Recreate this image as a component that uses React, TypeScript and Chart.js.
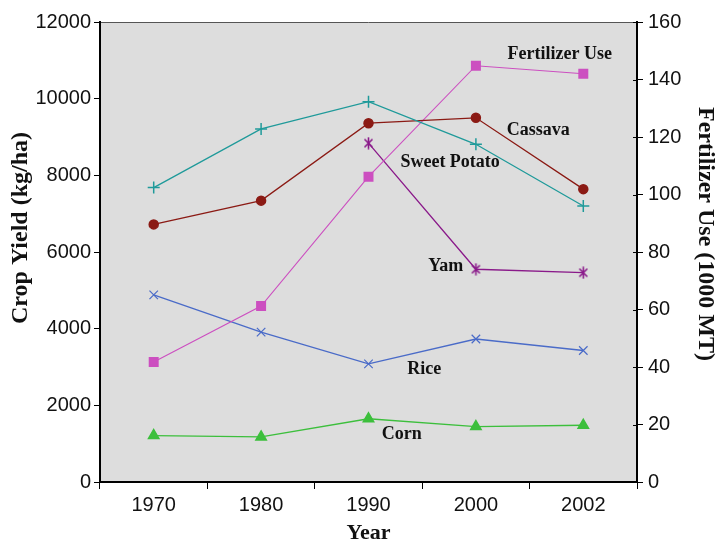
import React, { useEffect, useRef } from "react";
import { Chart, registerables } from "chart.js";

Chart.register(...registerables);

// ---- data ----
const years = ["1970", "1980", "1990", "2000", "2002"];
const sweetPotato = [7680, 9210, 9920, 8810, 7200];
const cassava = [6720, 7340, 9360, 9500, 7640];
const yam = [null, null, 8840, 5550, 5460];
const rice = [4880, 3910, 3080, 3730, 3430];
const corn = [1210, 1175, 1650, 1445, 1480];
const fertilizer = [41.7, 61.2, 106.2, 144.8, 142.0];

const yieldMax = 12000;
const yieldStep = 2000;
const fertMax = 160;
const fertStep = 20;

const yieldTitle = "Crop Yield (kg/ha)";
const fertTitle = "Fertilizer Use (1000 MT)";
const xTitle = "Year";

// in-plot series labels, anchored in data space (category index, crop-yield value)
const seriesLabels = [
  { text: "Fertilizer Use", at: 3.78, value: 11165 },
  { text: "Cassava", at: 3.58, value: 9183 },
  { text: "Sweet Potato", at: 2.76, value: 8348 },
  { text: "Yam", at: 2.72, value: 5635 },
  { text: "Rice", at: 2.52, value: 2948 },
  { text: "Corn", at: 2.31, value: 1252 },
];

const SERIF = "'Liberation Serif', 'Times New Roman', serif";
const SANS = "'Liberation Sans', Arial, sans-serif";

const YAM_COLOR = "#8a1a8a";

function makeYamMarker(): HTMLCanvasElement {
  const c = document.createElement("canvas");
  c.width = 13;
  c.height = 13;
  const g = c.getContext("2d")!;
  g.strokeStyle = YAM_COLOR;
  g.lineWidth = 1.6;
  g.beginPath();
  g.moveTo(2.5, 2.5); g.lineTo(10.5, 10.5);
  g.moveTo(10.5, 2.5); g.lineTo(2.5, 10.5);
  g.moveTo(6.5, 0.5); g.lineTo(6.5, 12.5);
  g.stroke();
  return c;
}

const plotBg = {
  id: "plotBg",
  beforeDraw(chart: any) {
    const { ctx, chartArea: a } = chart;
    ctx.save();
    ctx.fillStyle = "#dddddd";
    ctx.fillRect(a.left, a.top, a.right - a.left, a.bottom - a.top);
    ctx.strokeStyle = "#555555";
    ctx.lineWidth = 1;
    ctx.beginPath();
    ctx.moveTo(a.left, a.top + 0.5);
    ctx.lineTo(a.right, a.top + 0.5);
    ctx.stroke();
    ctx.restore();
  },
};

const decorPlugin = {
  id: "decor",
  afterDatasetsDraw(chart: any) {
    const { ctx, chartArea: a } = chart;
    const xs = chart.scales.x;
    const ys = chart.scales.y;
    const y1 = chart.scales.y1;
    ctx.save();
    // series labels
    ctx.fillStyle = "#111111";
    ctx.font = `bold 18px ${SERIF}`;
    ctx.textAlign = "center";
    ctx.textBaseline = "middle";
    for (const l of seriesLabels) {
      ctx.fillText(l.text, xs.getPixelForValue(l.at), ys.getPixelForValue(l.value));
    }
    // small inner part of right-axis ticks
    ctx.strokeStyle = "#000";
    ctx.lineWidth = 1;
    for (const t of y1.ticks) {
      const py = Math.round(y1.getPixelForValue(t.value)) + 0.5;
      ctx.beginPath();
      ctx.moveTo(a.right - 4, py);
      ctx.lineTo(a.right, py);
      ctx.stroke();
    }
    // vertical axis titles
    const midY = (a.top + a.bottom) / 2 - 24;
    ctx.font = `bold 24px ${SERIF}`;
    ctx.fillStyle = "#111";
    ctx.save();
    ctx.translate(21, midY);
    ctx.rotate(-Math.PI / 2);
    ctx.fillText(yieldTitle, 0, 0);
    ctx.restore();
    ctx.save();
    ctx.translate(705, midY + 6);
    ctx.rotate(Math.PI / 2);
    ctx.fillText(fertTitle, 0, 0);
    ctx.restore();
    ctx.restore();
  },
};

export default function App() {
  const ref = useRef<HTMLCanvasElement | null>(null);

  useEffect(() => {
    if (!ref.current) return;
    const common = { borderWidth: 1.3, pointBorderWidth: 1.5, pointRadius: 6, pointHoverRadius: 6 };
    const plainTick = (v: any) => String(v);
    const chart = new Chart(ref.current, {
      type: "line",
      data: {
        labels: years,
        datasets: [
          { ...common, label: "Sweet Potato", data: sweetPotato, yAxisID: "y", borderColor: "#1f9a9a", backgroundColor: "#1f9a9a", pointStyle: "cross", pointRadius: 6 },
          { ...common, label: "Cassava", data: cassava, yAxisID: "y", borderColor: "#8b1a14", backgroundColor: "#8b1a14", pointStyle: "circle", pointRadius: 4.5 },
          { ...common, label: "Fertilizer Use", data: fertilizer, yAxisID: "y1", borderColor: "#cc4fc0", backgroundColor: "#cc4fc0", pointStyle: "rect", pointRadius: 6, borderWidth: 1.1 },
          { ...common, label: "Yam", data: yam, yAxisID: "y", borderColor: YAM_COLOR, backgroundColor: YAM_COLOR, pointStyle: makeYamMarker(), pointRadius: 6, spanGaps: false },
          { ...common, label: "Rice", data: rice, yAxisID: "y", borderColor: "#4a6bc8", backgroundColor: "#4a6bc8", pointStyle: "crossRot", pointRadius: 6, pointBorderWidth: 1.2 },
          { ...common, label: "Corn", data: corn, yAxisID: "y", borderColor: "#3cbf3c", backgroundColor: "#3cbf3c", pointStyle: "triangle", pointRadius: 6 },
        ],
      },
      options: {
        responsive: false,
        animation: false,
        events: [],
        layout: { padding: { top: 22, left: 0, right: 0, bottom: 0 } },
        plugins: { legend: { display: false }, tooltip: { enabled: false }, title: { display: false } },
        elements: { line: { tension: 0 } },
        scales: {
          x: {
            type: "category",
            offset: true,
            afterFit: (s: any) => { s.height = 62; },
            grid: { offset: true, drawOnChartArea: false, drawTicks: true, tickLength: 7, color: "#000", lineWidth: 1 },
            border: { display: true, color: "#000", width: 2 },
            ticks: { color: "#111", font: { family: SANS, size: 20 }, padding: 4 },
            title: { display: true, text: xTitle, color: "#111", font: { family: SERIF, size: 22, weight: "bold", lineHeight: 1 }, padding: { top: 0, bottom: 0 } },
          },
          y: {
            position: "left",
            min: 0,
            max: yieldMax,
            afterFit: (s: any) => { s.width = 100; },
            grid: { drawOnChartArea: false, drawTicks: true, tickLength: 6, color: "#000", lineWidth: 1 },
            border: { display: true, color: "#000", width: 2 },
            ticks: { stepSize: yieldStep, color: "#111", font: { family: SANS, size: 20 }, padding: 3, callback: plainTick },
            title: { display: false },
          },
          y1: {
            position: "right",
            min: 0,
            max: fertMax,
            afterFit: (s: any) => { s.width = 82; },
            grid: { drawOnChartArea: false, drawTicks: true, tickLength: 6, color: "#000", lineWidth: 1 },
            border: { display: true, color: "#000", width: 2 },
            ticks: { stepSize: fertStep, color: "#111", font: { family: SANS, size: 20 }, padding: 5, callback: plainTick },
            title: { display: false },
          },
        },
      } as any,
      plugins: [plotBg, decorPlugin],
    });
    return () => chart.destroy();
  }, []);

  return (
    <div style={{ position: "absolute", left: 0, top: 0, width: 719, height: 544, background: "#fff" }}>
      <canvas ref={ref} width={719} height={544} style={{ display: "block" }} />
    </div>
  );
}
